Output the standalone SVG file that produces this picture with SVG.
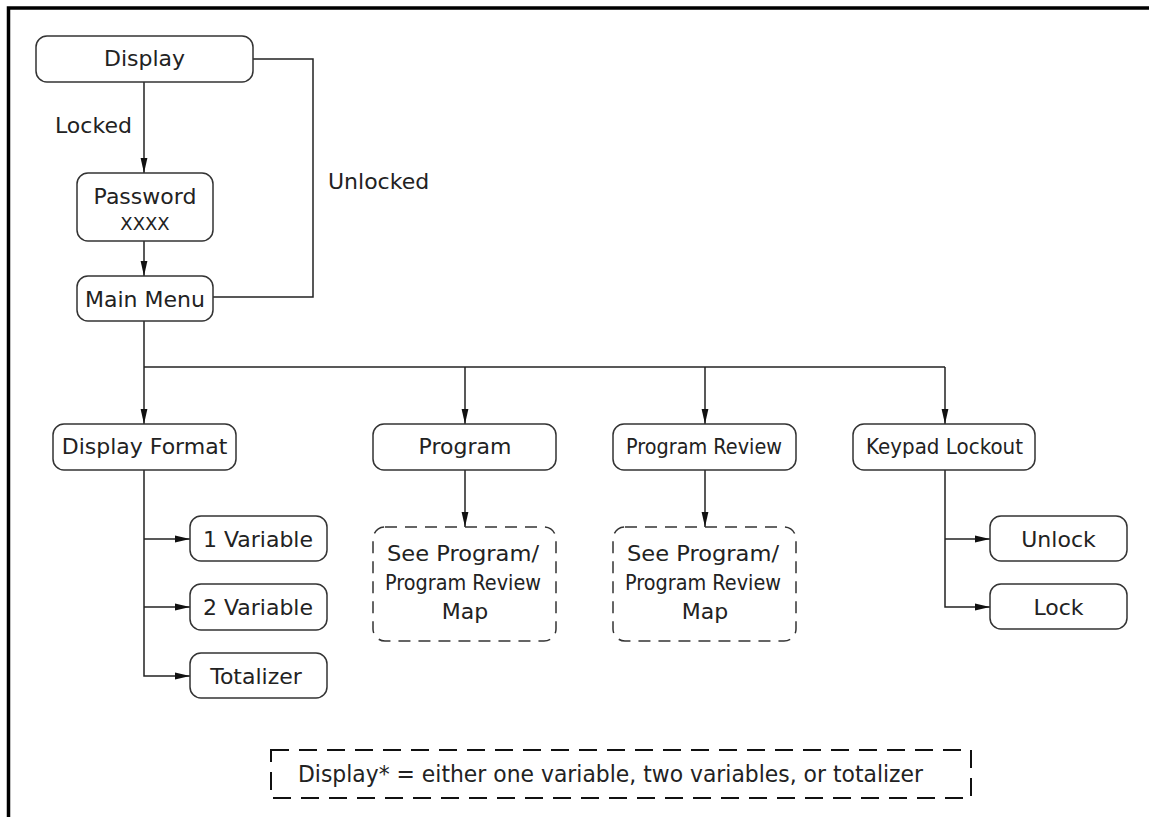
<svg xmlns="http://www.w3.org/2000/svg" width="1149" height="817" viewBox="0 0 1149 817">
<defs>
<style>
.box{fill:#fff;stroke:#333;stroke-width:1.5}
.dbox{fill:#fff;stroke:#333;stroke-width:1.5;stroke-dasharray:12 8}
.ln{fill:none;stroke:#222;stroke-width:1.5}
.t{font-family:"DejaVu Sans","Liberation Sans",sans-serif;font-size:22px;fill:#222;text-anchor:middle}
.tl{font-family:"DejaVu Sans","Liberation Sans",sans-serif;font-size:22px;fill:#222}
</style>
<marker id="ah" markerUnits="userSpaceOnUse" markerWidth="15" markerHeight="8" refX="15" refY="4" orient="auto">
<path d="M0,0.6 L15,4 L0,7.4 Z" fill="#111"/>
</marker>
</defs>
<rect width="1149" height="817" fill="#fff"/>
<path d="M8.5,817 V8 H1149" fill="none" stroke="#000" stroke-width="3.5"/>

<g id="connectors">
<path class="ln" d="M144,82 V173" marker-end="url(#ah)"/>
<path class="ln" d="M144,241 V276" marker-end="url(#ah)"/>
<path class="ln" d="M253,59 H313 V297 H213"/>
<path class="ln" d="M144,321 V424" marker-end="url(#ah)"/>
<path class="ln" d="M144,367 H945"/>
<path class="ln" d="M465,367 V424" marker-end="url(#ah)"/>
<path class="ln" d="M705,367 V424" marker-end="url(#ah)"/>
<path class="ln" d="M945,367 V424" marker-end="url(#ah)"/>
<path class="ln" d="M465,470 V527" marker-end="url(#ah)"/>
<path class="ln" d="M705,470 V527" marker-end="url(#ah)"/>
<path class="ln" d="M144,470 V676 H190" marker-end="url(#ah)"/>
<path class="ln" d="M144,539 H190" marker-end="url(#ah)"/>
<path class="ln" d="M144,607 H190" marker-end="url(#ah)"/>
<path class="ln" d="M945,470 V607 H990" marker-end="url(#ah)"/>
<path class="ln" d="M945,539 H990" marker-end="url(#ah)"/>
<text class="tl" x="55" y="133">Locked</text>
<text class="tl" x="328" y="189">Unlocked</text>
</g>

<g id="display"><rect class="box" x="36" y="36" width="217" height="46" rx="11"/><text class="t" x="144.5" y="66">Display</text></g>
<g id="password"><rect class="box" x="77" y="173" width="136" height="68" rx="11"/><text class="t" x="145" y="204">Password</text><text class="t" x="145" y="230" style="font-size:18px">XXXX</text></g>
<g id="mainmenu"><rect class="box" x="77" y="276" width="136" height="45" rx="11"/><text class="t" x="145" y="307">Main Menu</text></g>
<g id="displayformat"><rect class="box" x="53" y="424" width="183" height="46" rx="11"/><text class="t" x="144.5" y="454">Display Format</text></g>
<g id="program"><rect class="box" x="373" y="424" width="183" height="46" rx="11"/><text class="t" x="465" y="454">Program</text></g>
<g id="programreview"><rect class="box" x="613" y="424" width="183" height="46" rx="11"/><text class="t" x="704" y="454" textLength="156" lengthAdjust="spacingAndGlyphs">Program Review</text></g>
<g id="keypadlockout"><rect class="box" x="853" y="424" width="182" height="46" rx="11"/><text class="t" x="944.5" y="454" textLength="157" lengthAdjust="spacingAndGlyphs">Keypad Lockout</text></g>
<g id="map1"><rect class="dbox" x="373" y="527" width="183" height="114" rx="12"/><text class="t" x="463" y="561" textLength="152" lengthAdjust="spacingAndGlyphs">See Program/</text><text class="t" x="463" y="590" textLength="156" lengthAdjust="spacingAndGlyphs">Program Review</text><text class="t" x="465" y="619">Map</text></g>
<g id="map2"><rect class="dbox" x="613" y="527" width="183" height="114" rx="12"/><text class="t" x="703" y="561" textLength="152" lengthAdjust="spacingAndGlyphs">See Program/</text><text class="t" x="703" y="590" textLength="156" lengthAdjust="spacingAndGlyphs">Program Review</text><text class="t" x="705" y="619">Map</text></g>
<g id="var1"><rect class="box" x="190" y="516" width="137" height="45" rx="11"/><text class="t" x="258" y="547">1 Variable</text></g>
<g id="var2"><rect class="box" x="190" y="584" width="137" height="46" rx="11"/><text class="t" x="258" y="615">2 Variable</text></g>
<g id="totalizer"><rect class="box" x="190" y="653" width="137" height="45" rx="11"/><text class="t" x="256" y="684">Totalizer</text></g>
<g id="unlock"><rect class="box" x="990" y="516" width="137" height="45" rx="11"/><text class="t" x="1058.5" y="547">Unlock</text></g>
<g id="lock"><rect class="box" x="990" y="584" width="137" height="45" rx="11"/><text class="t" x="1058.5" y="615">Lock</text></g>
<g id="note"><rect x="271" y="750" width="700" height="48" fill="none" stroke="#111" stroke-width="2" stroke-dasharray="18 10"/><text class="tl" x="298" y="782" style="font-size:23px" textLength="625" lengthAdjust="spacingAndGlyphs">Display* = either one variable, two variables, or totalizer</text></g>
</svg>
